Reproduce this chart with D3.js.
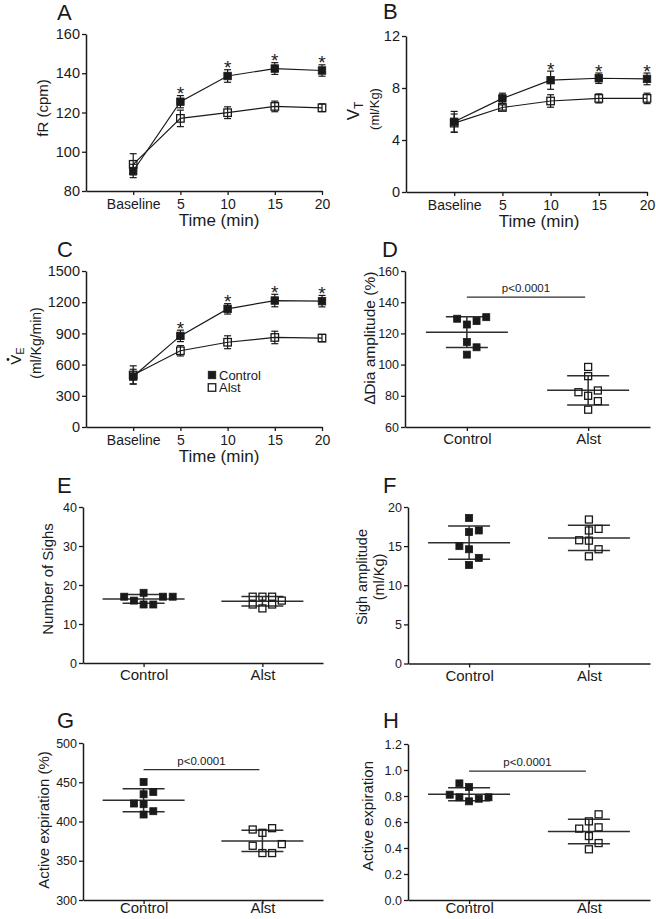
<!DOCTYPE html>
<html><head><meta charset="utf-8">
<script src="https://cdn.jsdelivr.net/npm/d3@7"></script>
<style>
body{margin:0;background:#fff}
svg{display:block}
text{font-family:"Liberation Sans",Arial,Helvetica,sans-serif;fill:#1a1a1a}
</style>
</head><body>
<svg id="chart" width="656" height="919"></svg>
<script>
// ---------- DATA ----------
const timeLabels = ["Baseline", "5", "10", "15", "20"];
const groups = ["Control", "Alst"];

// Panel A: fR (cpm)
const fRControl = [90.2, 125.5, 138.6, 142.4, 141.4];
const fRControlErr = [3.4, 3.1, 3.2, 3.0, 2.9];
const fRAlst = [93.6, 117.0, 119.9, 123.1, 122.4];
const fRAlstErr = [5.4, 4.2, 3.0, 2.7, 2.0];
const fRStars = [false, true, true, true, true];
const fRTicks = [80, 100, 120, 140, 160];

// Panel B: VT (ml/Kg)
const vtControl = [5.4, 7.2, 8.6, 8.75, 8.7];
const vtControlErr = [0.8, 0.4, 0.7, 0.4, 0.45];
const vtAlst = [5.3, 6.5, 7.0, 7.2, 7.2];
const vtAlstErr = [0.7, 0.2, 0.48, 0.35, 0.4];
const vtStars = [false, false, true, true, true];
const vtTicks = [0, 4, 8, 12];

// Panel C: VE (ml/Kg/min)
const veControl = [485, 876, 1136, 1216, 1210];
const veControlErr = [70, 55, 50, 60, 55];
const veAlst = [500, 733, 815, 861, 855];
const veAlstErr = [88, 50, 62, 60, 35];
const veStars = [false, true, true, true, true];
const veTicks = [0, 300, 600, 900, 1200, 1500];

// Panel D: Dia amplitude (%)
const diaControl = [129.4, 125.7, 127.9, 130.4, 114.5, 111.1, 106.4];
const diaControlSlot = [-1, 0, 1, 2, 0, 1, 0];
const diaAlst = [98.5, 92.6, 82.3, 80.0, 83.4, 76.6, 71.1];
const diaAlstSlot = [0, 0, -1, 0, 1, 1, 0];
const diaTicks = [60, 80, 100, 120, 140, 160];
const diaSig = 143.2;

// Panel E: Number of sighs
const sighNControl = [17, 16, 18, 15, 15, 17, 17];
const sighNControlSlot = [-2, -1, 0, 0, 1, 2, 3];
const sighNAlst = [17, 17, 17, 16, 15, 15, 14];
const sighNAlstSlot = [-1, 0, 1, 2, -1, 1, 0];
const sighNTicks = [0, 10, 20, 30, 40];

// Panel F: Sigh amplitude (ml/Kg)
const sighAControl = [18.6, 16.8, 17.0, 15.0, 14.6, 13.5, 12.6];
const sighAControlSlot = [0, 0, 1, -1, 0, 1, 0];
const sighAAlst = [18.4, 17.0, 17.2, 15.75, 15.7, 14.6, 13.7];
const sighAAlstSlot = [0, 0, 1, -1, 0, 1, 0];
const sighATicks = [0, 5, 10, 15, 20];

// Panel G: Active expiration (%)
const aePctControl = [450.4, 437.7, 434.7, 422.9, 422.0, 413.1, 408.9];
const aePctControlSlot = [0, 1, 0, -1, 0, 1, 0];
const aePctAlst = [389.8, 391.5, 385.6, 369.1, 371.2, 359.8, 359.8];
const aePctAlstSlot = [-1, 1, 0, -1, 2, 0, 1];
const aePctTicks = [300, 350, 400, 450, 500];
const aePctSig = 466;

// Panel H: Active expiration
const aeControl = [0.897, 0.869, 0.810, 0.790, 0.779, 0.790, 0.759];
const aeControlSlot = [-1, 0, -2, -1, 1, 2, 0];
const aeAlst = [0.659, 0.605, 0.549, 0.559, 0.492, 0.438, 0.390];
const aeAlstSlot = [1, 0, -1, 1, 0, 1, 0];
const aeTicks = [0, 0.2, 0.4, 0.6, 0.8, 1.0, 1.2];
const aeSig = 0.992;

const sigLabel = "p<0.0001";

// ---------- DRAWING ----------
const svg = d3.select("#chart");
const INK = "#1a1a1a";
const GRAY = "#2e2e2e";

function styleAxis(g) {
  g.select(".domain").attr("stroke", INK).attr("stroke-width", 1.5);
  g.selectAll(".tick line").attr("stroke", INK).attr("stroke-width", 1.3);
}

function panelLetter(txt, x, y) {
  svg.append("text").attr("x", x).attr("y", y).style("font-size", "22px").text(txt);
}

function marker(sel, cx, cy, filled, size) {
  sel.append("rect")
    .attr("x", cx - size / 2).attr("y", cy - size / 2)
    .attr("width", size).attr("height", size)
    .attr("fill", filled ? INK : "none")
    .attr("stroke", INK).attr("stroke-width", filled ? 0.8 : 1.3);
}

function linePanel(cfg) {
  const g = svg.append("g");
  const x = d3.scaleLinear().domain([-1, timeLabels.length - 1]).range([cfg.x0, cfg.x1]);
  const y = d3.scaleLinear().domain(d3.extent(cfg.ticks)).range([cfg.yBottom, cfg.yTop]);

  const ya = g.append("g").attr("transform", `translate(${cfg.x0},0)`)
    .call(d3.axisLeft(y).tickValues(cfg.ticks).tickSize(4).tickSizeOuter(0).tickPadding(2)
      .tickFormat(d3.format("d")));
  ya.selectAll("text").style("font-size", "14.5px");
  styleAxis(ya);

  const xa = g.append("g").attr("transform", `translate(0,${cfg.yBottom})`)
    .call(d3.axisBottom(x).tickValues(d3.range(timeLabels.length)).tickFormat(i => timeLabels[i])
      .tickSize(4).tickSizeOuter(0));
  xa.selectAll("text").attr("dy", null).attr("y", 17.5).style("font-size", "14px");
  styleAxis(xa);

  g.append("text").attr("x", cfg.x0 + 133).attr("y", cfg.yBottom + 34.5)
    .attr("text-anchor", "middle").style("font-size", "17px").text("Time (min)");

  const series = [
    { v: cfg.ctrl, e: cfg.ctrlErr, filled: true },
    { v: cfg.alst, e: cfg.alstErr, filled: false }
  ];
  const line = d3.line().x((d, i) => x(i)).y(d => y(d));
  series.forEach(s => {
    g.append("path").datum(s.v).attr("d", line)
      .attr("fill", "none").attr("stroke", INK).attr("stroke-width", 1.2);
  });
  series.forEach(s => {
    s.v.forEach((v, i) => {
      const cx = x(i), t = y(v + s.e[i]), b = y(v - s.e[i]);
      g.append("line").attr("x1", cx).attr("x2", cx).attr("y1", t).attr("y2", b)
        .attr("stroke", INK).attr("stroke-width", 1.2);
      [t, b].forEach(yy => g.append("line").attr("x1", cx - 3.5).attr("x2", cx + 3.5)
        .attr("y1", yy).attr("y2", yy).attr("stroke", INK).attr("stroke-width", 1.2));
      marker(g, cx, y(v), s.filled, 7.5);
    });
  });
  cfg.stars.forEach((st, i) => {
    if (!st) return;
    const top = y(cfg.ctrl[i] + cfg.ctrlErr[i]);
    g.append("text").attr("x", x(i)).attr("y", top + 4.5)
      .attr("text-anchor", "middle").style("font-size", "19px").text("*");
  });
  return { g, x, y };
}

function scatterPanel(cfg) {
  const g = svg.append("g");
  const x = d3.scalePoint().domain(groups).range([cfg.x0, cfg.x1]).padding(0.51);
  const y = d3.scaleLinear().domain(d3.extent(cfg.ticks)).range([cfg.yBottom, cfg.yTop]);

  const ya = g.append("g").attr("transform", `translate(${cfg.x0},0)`)
    .call(d3.axisLeft(y).tickValues(cfg.ticks).tickSize(4).tickSizeOuter(0).tickPadding(2)
      .tickFormat(cfg.fmt || d3.format("d")));
  ya.selectAll("text").style("font-size", "12.5px");
  styleAxis(ya);

  const xa = g.append("g").attr("transform", `translate(0,${cfg.yBottom})`)
    .call(d3.axisBottom(x).tickSize(4).tickSizeOuter(0));
  xa.selectAll("text").attr("dy", null).attr("y", cfg.labOff).style("font-size", "15px");
  styleAxis(xa);

  const sets = [
    { vals: cfg.ctrl, slots: cfg.ctrlSlot, filled: true, grp: groups[0] },
    { vals: cfg.alst, slots: cfg.alstSlot, filled: false, grp: groups[1] }
  ];
  sets.forEach(s => {
    const cx = x(s.grp);
    const m = d3.mean(s.vals), sd = d3.deviation(s.vals);
    const ln = (x1, x2, y1, y2) => g.append("line").attr("x1", x1).attr("x2", x2)
      .attr("y1", y1).attr("y2", y2).attr("stroke", GRAY).attr("stroke-width", 1.5);
    ln(cx - 41, cx + 41, y(m), y(m));
    ln(cx - 21, cx + 21, y(m + sd), y(m + sd));
    ln(cx - 21, cx + 21, y(m - sd), y(m - sd));
    ln(cx, cx, y(m + sd), y(m - sd));
    s.vals.forEach((v, i) => marker(g, cx + s.slots[i] * 9.7, y(v), s.filled, 7));
  });

  if (cfg.sig !== undefined) {
    const x1 = x(groups[0]), x2 = x(groups[1]) - 3, yy = y(cfg.sig);
    g.append("line").attr("x1", x1).attr("x2", x2).attr("y1", yy).attr("y2", yy)
      .attr("stroke", GRAY).attr("stroke-width", 1.3);
    g.append("text").attr("x", (x1 + x2) / 2).attr("y", yy - 5)
      .attr("text-anchor", "middle").style("font-size", "11.5px").text(sigLabel);
  }
  return { g, x, y };
}

function rotLabel(lines) {
  lines.forEach(l => {
    const t = svg.append("text").attr("transform", `translate(${l.x},${l.y}) rotate(-90)`)
      .attr("text-anchor", "middle").style("font-size", l.size + "px");
    if (l.parts) {
      l.parts.forEach(p => {
        const ts = t.append("tspan").text(p.t);
        if (p.size) ts.style("font-size", p.size + "px");
        if (p.dy) ts.attr("dy", p.dy);
      });
    } else t.text(l.text);
  });
}

// Panel A
panelLetter("A", 57, 20);
linePanel({ x0: 86, x1: 322, yTop: 34, yBottom: 191, ticks: fRTicks,
  ctrl: fRControl, ctrlErr: fRControlErr, alst: fRAlst, alstErr: fRAlstErr, stars: fRStars });
rotLabel([{ x: 48, y: 108, size: 15, text: "fR (cpm)" }]);

// Panel B
panelLetter("B", 383, 19);
linePanel({ x0: 406, x1: 647, yTop: 36, yBottom: 192, ticks: vtTicks,
  ctrl: vtControl, ctrlErr: vtControlErr, alst: vtAlst, alstErr: vtAlstErr, stars: vtStars });
rotLabel([
  { x: 359, y: 111, size: 17, parts: [{ t: "V" }, { t: "T", size: 12, dy: 4 }] },
  { x: 379, y: 109, size: 13, text: "(ml/Kg)" }
]);

// Panel C
panelLetter("C", 57, 257);
linePanel({ x0: 86, x1: 322, yTop: 271, yBottom: 427, ticks: veTicks,
  ctrl: veControl, ctrlErr: veControlErr, alst: veAlst, alstErr: veAlstErr, stars: veStars });
rotLabel([
  { x: 21, y: 356, size: 15, parts: [{ t: "V" }, { t: "E", size: 11, dy: 3 }] },
  { x: 41, y: 343, size: 14, text: "(ml/Kg/min)" }
]);
// dot over the V of V-dot (flow rate symbol)
svg.append("circle").attr("cx", 8).attr("cy", 359.5).attr("r", 1.4).attr("fill", INK);
// legend
[{ name: groups[0], filled: true, y: 375 }, { name: groups[1], filled: false, y: 387.5 }].forEach(l => {
  marker(svg, 212, l.y, l.filled, 7.5);
  svg.append("text").attr("x", 219).attr("y", l.y + 4.5).style("font-size", "13px").text(l.name);
});

// Panel D
panelLetter("D", 382, 257);
scatterPanel({ x0: 405, x1: 650, yTop: 271, yBottom: 427, ticks: diaTicks, labOff: 17,
  ctrl: diaControl, ctrlSlot: diaControlSlot, alst: diaAlst, alstSlot: diaAlstSlot, sig: diaSig });
rotLabel([{ x: 375, y: 338, size: 15.5, text: "\u2206Dia amplitude (%)" }]);

// Panel E
panelLetter("E", 57, 493);
scatterPanel({ x0: 83, x1: 323, yTop: 507, yBottom: 663, ticks: sighNTicks, labOff: 17,
  ctrl: sighNControl, ctrlSlot: sighNControlSlot, alst: sighNAlst, alstSlot: sighNAlstSlot });
rotLabel([{ x: 53, y: 579, size: 15, text: "Number of Sighs" }]);

// Panel F
panelLetter("F", 383, 493);
scatterPanel({ x0: 408, x1: 650, yTop: 507, yBottom: 663.5, ticks: sighATicks, labOff: 17,
  ctrl: sighAControl, ctrlSlot: sighAControlSlot, alst: sighAAlst, alstSlot: sighAAlstSlot });
rotLabel([
  { x: 367, y: 577, size: 14.5, text: "Sigh amplitude" },
  { x: 384, y: 577, size: 14.5, text: "(ml/Kg)" }
]);

// Panel G
panelLetter("G", 57, 728);
scatterPanel({ x0: 83, x1: 323, yTop: 743, yBottom: 900, ticks: aePctTicks, labOff: 12.5,
  ctrl: aePctControl, ctrlSlot: aePctControlSlot, alst: aePctAlst, alstSlot: aePctAlstSlot, sig: aePctSig });
rotLabel([{ x: 49, y: 820, size: 15, text: "Active expiration (%)" }]);

// Panel H
panelLetter("H", 383, 728);
scatterPanel({ x0: 408, x1: 650, yTop: 744, yBottom: 900, ticks: aeTicks, labOff: 12.5,
  fmt: d3.format(".1f"),
  ctrl: aeControl, ctrlSlot: aeControlSlot, alst: aeAlst, alstSlot: aeAlstSlot, sig: aeSig });
rotLabel([{ x: 373, y: 816, size: 15, text: "Active expiration" }]);
</script>
</body></html>
